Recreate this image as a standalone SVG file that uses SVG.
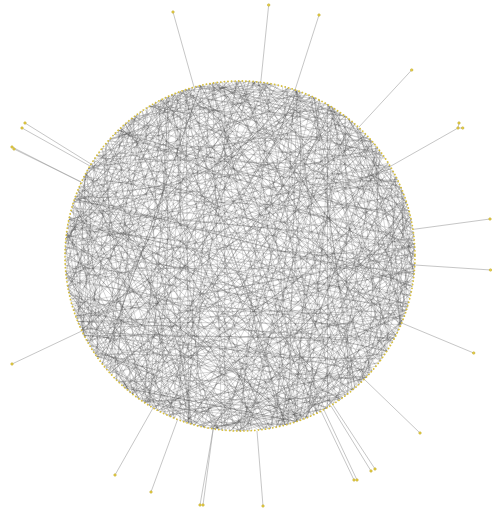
<svg xmlns="http://www.w3.org/2000/svg" width="492" height="515" viewBox="0 0 492 515">
<style>
.e{fill:none;stroke:#3a3a3a;stroke-width:.45;stroke-opacity:.42}
.o{fill:none;stroke:#a0a0a0;stroke-width:.6}
.n{fill:#e6cf45;stroke:#b39d2c;stroke-width:.4}
</style>
<defs>
<path id="k30" d="M175 0L151.6 87.5"/>
<path id="k35" d="M175 0L143.4 100.4"/>
<path id="k40" d="M175 0L134.1 112.5"/>
<path id="k45" d="M175 0L123.7 123.7"/>
<path id="k50" d="M175 0L112.5 134.1"/>
<path id="k55" d="M175 0L100.4 143.4"/>
<path id="k60" d="M175 0L87.5 151.6"/>
<path id="k65" d="M175 0L74 158.6"/>
<path id="k70" d="M175 0L59.9 164.4"/>
<path id="k75" d="M175 0L45.3 169"/>
<path id="k80" d="M175 0L30.4 172.3"/>
<path id="k85" d="M175 0L15.3 174.3"/>
<path id="k90" d="M175 0L0 175"/>
<path id="k95" d="M175 0L-15.3 174.3"/>
<path id="k100" d="M175 0L-30.4 172.3"/>
<path id="k105" d="M175 0L-45.3 169"/>
<path id="k110" d="M175 0L-59.9 164.4"/>
<path id="k115" d="M175 0L-74 158.6"/>
<path id="k120" d="M175 0L-87.5 151.6"/>
<path id="k125" d="M175 0L-100.4 143.4"/>
<path id="k130" d="M175 0L-112.5 134.1"/>
<path id="k135" d="M175 0L-123.7 123.7"/>
<path id="k140" d="M175 0L-134.1 112.5"/>
<path id="k145" d="M175 0L-143.4 100.4"/>
<path id="k150" d="M175 0L-151.6 87.5"/>
<path id="k155" d="M175 0L-158.6 74"/>
<path id="k160" d="M175 0L-164.4 59.9"/>
<path id="k165" d="M175 0L-169 45.3"/>
<path id="k168" d="M175 0L-171.2 36.4"/>
<path id="k170" d="M175 0L-172.3 30.4"/>
<path id="k172" d="M175 0L-173.3 24.4"/>
<path id="k174" d="M175 0L-174 18.3"/>
<path id="k176" d="M175 0L-174.6 12.2"/>
<path id="k178" d="M175 0L-174.9 6.1"/>
<path id="c40" d="M175 0Q120.4 43.8 134.1 112.5"/>
<path id="c60" d="M175 0Q86.6 50 87.5 151.6"/>
<path id="c90" d="M175 0Q42 42 0 175"/>
<path id="c120" d="M175 0Q29 50 -87.5 151.6"/>
<path id="c150" d="M175 0Q17 64 -151.6 87.5"/>
<g id="T1"><use href="#k90"/><use href="#k135" transform="rotate(23)"/><use href="#k60" transform="rotate(71)"/><use href="#k160" transform="rotate(113)"/><use href="#k110" transform="rotate(167)"/><use href="#k45" transform="rotate(211)"/><use href="#k145" transform="rotate(259)"/><use href="#k75" transform="rotate(302)"/><use href="#k30" transform="rotate(337)"/></g>
<g id="T2"><use href="#k120" transform="rotate(11)"/><use href="#k70" transform="rotate(47)"/><use href="#k170" transform="rotate(88)"/><use href="#k100" transform="rotate(139)"/><use href="#k55" transform="rotate(190)"/><use href="#k150" transform="rotate(226)"/><use href="#k85" transform="rotate(281)"/><use href="#k125" transform="rotate(318)"/><use href="#k40" transform="rotate(350)"/></g>
<g id="T3"><use href="#k165" transform="rotate(5)"/><use href="#k105" transform="rotate(52)"/><use href="#k140" transform="rotate(97)"/><use href="#k65" transform="rotate(131)"/><use href="#k115" transform="rotate(176)"/><use href="#k155" transform="rotate(219)"/><use href="#k50" transform="rotate(263)"/><use href="#k130" transform="rotate(297)"/><use href="#k95" transform="rotate(329)"/></g>
<g id="T4"><use href="#k155" transform="rotate(17)"/><use href="#k80" transform="rotate(64)"/><use href="#k125" transform="rotate(104)"/><use href="#k35" transform="rotate(150)"/><use href="#k145" transform="rotate(183)"/><use href="#k100" transform="rotate(236)"/><use href="#k160" transform="rotate(271)"/><use href="#k60" transform="rotate(309)"/><use href="#k115" transform="rotate(344)"/></g>
<g id="TC"><use href="#c60"/><use href="#c90" transform="rotate(61)"/><use href="#c120" transform="rotate(133)"/><use href="#c150" transform="rotate(197)"/><use href="#c40" transform="rotate(251)"/><use href="#c90" transform="rotate(300)"/></g>
<g id="TX"><use href="#k172"/><use href="#k170" transform="rotate(29)"/><use href="#k176" transform="rotate(67)"/><use href="#k168" transform="rotate(141)"/><use href="#k178" transform="rotate(203)"/><use href="#k174" transform="rotate(259)"/><use href="#k176" transform="rotate(318)"/></g>
</defs>
<rect width="492" height="515" fill="#fff"/>
<g id="connectors">
<g class="e" transform="translate(240 256)">
<use href="#T1"/><use href="#T1" transform="rotate(19)"/><use href="#T1" transform="rotate(44)"/><use href="#T1" transform="rotate(83)"/><use href="#T1" transform="rotate(97)"/><use href="#T1" transform="rotate(128)"/><use href="#T1" transform="rotate(151)"/><use href="#T1" transform="rotate(176)"/><use href="#T1" transform="rotate(203)"/><use href="#T1" transform="rotate(229)"/><use href="#T1" transform="rotate(247)"/><use href="#T1" transform="rotate(274)"/><use href="#T1" transform="rotate(301)"/><use href="#T1" transform="rotate(333)"/>
<use href="#T2" transform="rotate(7)"/><use href="#T2" transform="rotate(31)"/><use href="#T2" transform="rotate(62)"/><use href="#T2" transform="rotate(71)"/><use href="#T2" transform="rotate(112)"/><use href="#T2" transform="rotate(139)"/><use href="#T2" transform="rotate(163)"/><use href="#T2" transform="rotate(192)"/><use href="#T2" transform="rotate(214)"/><use href="#T2" transform="rotate(241)"/><use href="#T2" transform="rotate(266)"/><use href="#T2" transform="rotate(289)"/><use href="#T2" transform="rotate(318)"/><use href="#T2" transform="rotate(347)"/>
<use href="#T3" transform="rotate(13)"/><use href="#T3" transform="rotate(38)"/><use href="#T3" transform="rotate(50)"/><use href="#T3" transform="rotate(91)"/><use href="#T3" transform="rotate(118)"/><use href="#T3" transform="rotate(146)"/><use href="#T3" transform="rotate(169)"/><use href="#T3" transform="rotate(187)"/><use href="#T3" transform="rotate(222)"/><use href="#T3" transform="rotate(255)"/><use href="#T3" transform="rotate(281)"/><use href="#T3" transform="rotate(296)"/><use href="#T3" transform="rotate(326)"/><use href="#T3" transform="rotate(352)"/>
<use href="#T4" transform="rotate(3)"/><use href="#T4" transform="rotate(24)"/><use href="#T4" transform="rotate(57)"/><use href="#T4" transform="rotate(88)"/><use href="#T4" transform="rotate(106)"/><use href="#T4" transform="rotate(122)"/><use href="#T4" transform="rotate(158)"/><use href="#T4" transform="rotate(181)"/><use href="#T4" transform="rotate(198)"/><use href="#T4" transform="rotate(236)"/><use href="#T4" transform="rotate(259)"/><use href="#T4" transform="rotate(284)"/><use href="#T4" transform="rotate(311)"/><use href="#T4" transform="rotate(339)"/>
<use href="#TC" transform="rotate(9)"/><use href="#TC" transform="rotate(46)"/><use href="#TC" transform="rotate(93)"/><use href="#TC" transform="rotate(121)"/><use href="#TC" transform="rotate(137)"/><use href="#TC" transform="rotate(178)"/><use href="#TC" transform="rotate(215)"/><use href="#TC" transform="rotate(262)"/><use href="#TC" transform="rotate(307)"/><use href="#TC" transform="rotate(349)"/>
<use href="#TX" transform="rotate(4)"/><use href="#TX" transform="rotate(58)"/><use href="#TX" transform="rotate(117)"/><use href="#TX" transform="rotate(170)"/><use href="#TX" transform="rotate(232)"/><use href="#TX" transform="rotate(290)"/>
</g>
<g class="o">
<path d="M173 12L194 87"/>
<path d="M25 123L91 164"/>
<path d="M22 128L90 166"/>
<path d="M12 147L81 182"/>
<path d="M14 149L81 182"/>
<path d="M268.7 5L260.8 82"/>
<path d="M319 15L295 90"/>
<path d="M411.7 70L359 127"/>
<path d="M458 128L390.3 166.4M458 128L459 123M458 128L462.7 128"/>
<path d="M490 219L413 229.4"/>
<path d="M12 364L81.8 331"/>
<path d="M115 475L153 408"/>
<path d="M151 492L177.6 419.5"/>
<path d="M200 505L213.2 428.9"/>
<path d="M203 505L213.2 428.9"/>
<path d="M491 270L414.8 265"/>
<path d="M473.7 353L401.7 323"/>
<path d="M420 433L364.2 379.2"/>
<path d="M375 469L333 405"/>
<path d="M371 471L331 406"/>
<path d="M354 480L321 411"/>
<path d="M357 480L324 410"/>
<path d="M263 506L257 431"/>
</g>
</g>
<g id="ring-nodes"><circle cx="240" cy="256" r="175" fill="none" stroke="#d6bf3e" stroke-width="1.8" stroke-linecap="round" stroke-dasharray="0.01 3.6"/></g>
<g id="n1"><circle class="n" cx="173" cy="12" r="1.3"/></g>
<g id="n2"><circle class="n" cx="25" cy="123" r="1.3"/></g>
<g id="n3"><circle class="n" cx="22" cy="128" r="1.3"/></g>
<g id="n4"><circle class="n" cx="12" cy="147" r="1.3"/></g>
<g id="n5"><circle class="n" cx="14" cy="149" r="1.3"/></g>
<g id="n6"><circle class="n" cx="268.7" cy="5" r="1.3"/></g>
<g id="n7"><circle class="n" cx="319" cy="15" r="1.3"/></g>
<g id="n8"><circle class="n" cx="411.7" cy="70" r="1.3"/></g>
<g id="n9"><circle class="n" cx="458" cy="128" r="1.3"/></g>
<g id="n10"><circle class="n" cx="459" cy="123" r="1.3"/></g>
<g id="n11"><circle class="n" cx="462.7" cy="128" r="1.3"/></g>
<g id="n12"><circle class="n" cx="490" cy="219" r="1.3"/></g>
<g id="n13"><circle class="n" cx="12" cy="364" r="1.3"/></g>
<g id="n14"><circle class="n" cx="115" cy="475" r="1.3"/></g>
<g id="n15"><circle class="n" cx="151" cy="492" r="1.3"/></g>
<g id="n16"><circle class="n" cx="200" cy="505" r="1.3"/></g>
<g id="n17"><circle class="n" cx="203" cy="505" r="1.3"/></g>
<g id="n18"><circle class="n" cx="490.5" cy="270" r="1.3"/></g>
<g id="n19"><circle class="n" cx="473.7" cy="353" r="1.3"/></g>
<g id="n20"><circle class="n" cx="420" cy="433" r="1.3"/></g>
<g id="n21"><circle class="n" cx="375" cy="469" r="1.3"/></g>
<g id="n22"><circle class="n" cx="371" cy="471" r="1.3"/></g>
<g id="n23"><circle class="n" cx="354" cy="480" r="1.3"/></g>
<g id="n24"><circle class="n" cx="357" cy="480" r="1.3"/></g>
<g id="n25"><circle class="n" cx="263" cy="506" r="1.3"/></g>
</svg>
